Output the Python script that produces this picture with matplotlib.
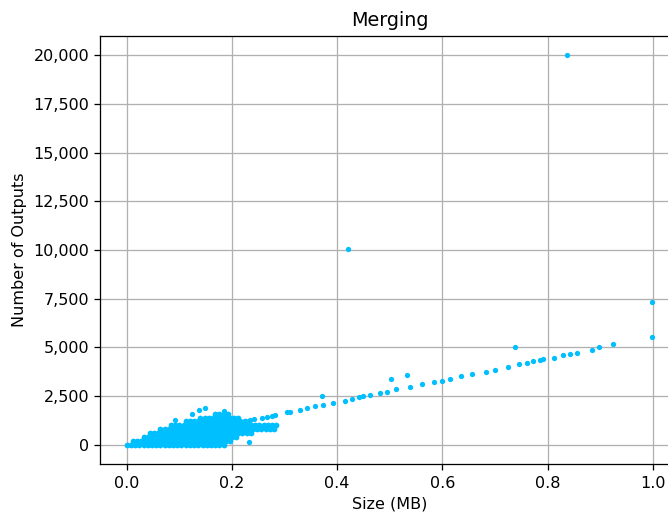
import matplotlib
matplotlib.use("Agg")
import matplotlib.pyplot as plt
from matplotlib.ticker import FuncFormatter

# ---- data ----
# dense cluster, stored as rows of (outputs level, sizes)
cluster_levels = [0, 200, 400, 600, 800, 1000, 1200, 1400, 1600]
cluster_sizes = [
    [0.000, 0.008, 0.016, 0.024, 0.032, 0.040, 0.048, 0.056, 0.064, 0.072, 0.080, 0.088,
     0.096, 0.104, 0.112, 0.120, 0.128, 0.136, 0.144, 0.152, 0.160, 0.168, 0.176, 0.184],
    [0.012, 0.020, 0.028, 0.036, 0.044, 0.052, 0.060, 0.068, 0.076, 0.084, 0.092, 0.100,
     0.108, 0.116, 0.124, 0.132, 0.140, 0.148, 0.156, 0.164, 0.172, 0.180, 0.188, 0.196],
    [0.032, 0.040, 0.048, 0.056, 0.064, 0.072, 0.080, 0.088, 0.096, 0.104, 0.112, 0.120,
     0.128, 0.136, 0.144, 0.152, 0.160, 0.168, 0.176, 0.184, 0.192, 0.200, 0.208],
    [0.044, 0.052, 0.060, 0.068, 0.076, 0.084, 0.092, 0.100, 0.108, 0.116, 0.124, 0.132,
     0.140, 0.148, 0.156, 0.164, 0.172, 0.180, 0.188, 0.196, 0.204, 0.212, 0.220, 0.228, 0.236],
    [0.064, 0.072, 0.080, 0.088, 0.096, 0.104, 0.112, 0.120, 0.128, 0.136, 0.144, 0.152,
     0.160, 0.168, 0.176, 0.184, 0.192, 0.200, 0.208, 0.216, 0.224, 0.232, 0.240, 0.248,
     0.256, 0.264, 0.272, 0.280],
    [0.084, 0.092, 0.100, 0.108, 0.116, 0.124, 0.132, 0.140, 0.148, 0.156, 0.164, 0.172,
     0.180, 0.188, 0.196, 0.204, 0.212, 0.220, 0.228, 0.236, 0.244, 0.252, 0.260, 0.268,
     0.276, 0.284],
    [0.112, 0.120, 0.128, 0.136, 0.144, 0.152, 0.160, 0.168, 0.176, 0.184, 0.192, 0.200,
     0.208, 0.216, 0.224, 0.232],
    [0.140, 0.148, 0.156, 0.164, 0.172, 0.180, 0.188, 0.196, 0.204, 0.212],
    [0.168, 0.176, 0.184, 0.192],
]

# individual points (size MB, number of outputs)
point_sizes = [0.092, 0.124, 0.138, 0.149, 0.184, 0.232,
               0.235, 0.241, 0.257, 0.266, 0.276, 0.282, 0.305, 0.311, 0.330, 0.343,
               0.358, 0.371, 0.374, 0.392, 0.415, 0.428, 0.441, 0.450, 0.463, 0.482,
               0.495, 0.502, 0.512, 0.533, 0.538, 0.561, 0.585, 0.599, 0.615, 0.635,
               0.656, 0.683, 0.700, 0.724, 0.739, 0.745, 0.761, 0.773, 0.785, 0.792,
               0.813, 0.830, 0.843, 0.855, 0.884, 0.897, 0.925,
               0.998, 0.998, 0.421, 0.837]
point_outputs = [1280, 1571, 1792, 1879, 1720, 170,
                 1280, 1331, 1400, 1450, 1500, 1536, 1705, 1690, 1792, 1894,
                 1997, 2508, 2048, 2133, 2269, 2338, 2440, 2491, 2560, 2645,
                 2730, 3396, 2851, 3583, 2969, 3105, 3208, 3276, 3379, 3516,
                 3634, 3753, 3840, 4010, 5032, 4130, 4198, 4284, 4335, 4386,
                 4470, 4590, 4658, 4727, 4863, 5030, 5154,
                 5544, 7320, 10033, 20000]

x_ticks = [0.0, 0.2, 0.4, 0.6, 0.8, 1.0]
y_ticks = [0, 2500, 5000, 7500, 10000, 12500, 15000, 17500, 20000]

# ---- plot ----
DPI = 115
fig = plt.figure(figsize=(668 / DPI, 515 / DPI), dpi=DPI)
ax = fig.add_axes([0.1504, 0.0984, 0.8662, 0.8322])
ax.set_axisbelow(True)
ax.grid(True, color="#b0b0b0", linewidth=0.8)

color = "#00BFFF"
for lvl, xs in zip(cluster_levels, cluster_sizes):
    ax.scatter(xs, [lvl] * len(xs), s=13, color=color, linewidths=0)
ax.scatter(point_sizes, point_outputs, s=11, color=color, linewidths=0)

ax.set_xlim(-0.05, 1.05)
ax.set_ylim(-1000, 21000)
ax.set_xticks(x_ticks)
ax.set_yticks(y_ticks)
ax.yaxis.set_major_formatter(FuncFormatter(lambda v, p: f"{int(v):,}"))

ax.set_title("Merging", fontsize=12)
ax.set_xlabel("Size (MB)")
ax.set_ylabel("Number of Outputs")

fig.savefig("out.png", dpi=DPI)
